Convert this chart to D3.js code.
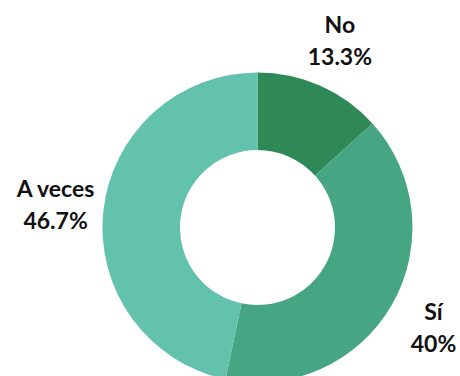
<!DOCTYPE html>
<html>
<head>
<meta charset="utf-8">
<script src="https://cdn.jsdelivr.net/npm/d3@7"></script>
<style>
  html, body { margin: 0; padding: 0; background: #ffffff; }
  svg { display: block; }
  .lbl { font-family: Lato, "Open Sans", sans-serif; font-weight: 700; font-size: 23px; fill: #111; }
</style>
</head>
<body>
<svg id="chart" width="460" height="376"></svg>
<script>
// Responses and their shares (percent)
const categories = ["No", "Sí", "A veces"];
const values = [13.3, 40, 46.7];
const valueLabels = ["13.3%", "40%", "46.7%"];
const colors = ["#2e8957", "#46a684", "#63c2ab"];

const width = 460, height = 376;
const cx = 257.5, cy = 227.5;
const outerR = 155, innerR = 77.5, labelR = 203;

const svg = d3.select("#chart");
const g = svg.append("g").attr("transform", `translate(${cx},${cy})`);

const data = categories.map((c, i) => ({ category: c, value: values[i], label: valueLabels[i], color: colors[i] }));

const pie = d3.pie().value(d => d.value).sort(null);
const arc = d3.arc().innerRadius(innerR).outerRadius(outerR);
const labelArc = d3.arc().innerRadius(labelR).outerRadius(labelR);

const arcs = pie(data);

g.selectAll("path.slice")
  .data(arcs)
  .join("path")
  .attr("class", "slice")
  .attr("d", arc)
  .attr("fill", d => d.data.color);

// Two-line labels (category over percentage) just outside each slice
const labels = g.selectAll("text.lbl")
  .data(arcs)
  .join("text")
  .attr("class", "lbl")
  .attr("text-anchor", "middle")
  .attr("transform", d => `translate(${labelArc.centroid(d)})`);

labels.append("tspan").attr("x", 0).attr("y", -9).text(d => d.data.category);
labels.append("tspan").attr("x", 0).attr("y", 23).text(d => d.data.label);
</script>
</body>
</html>
